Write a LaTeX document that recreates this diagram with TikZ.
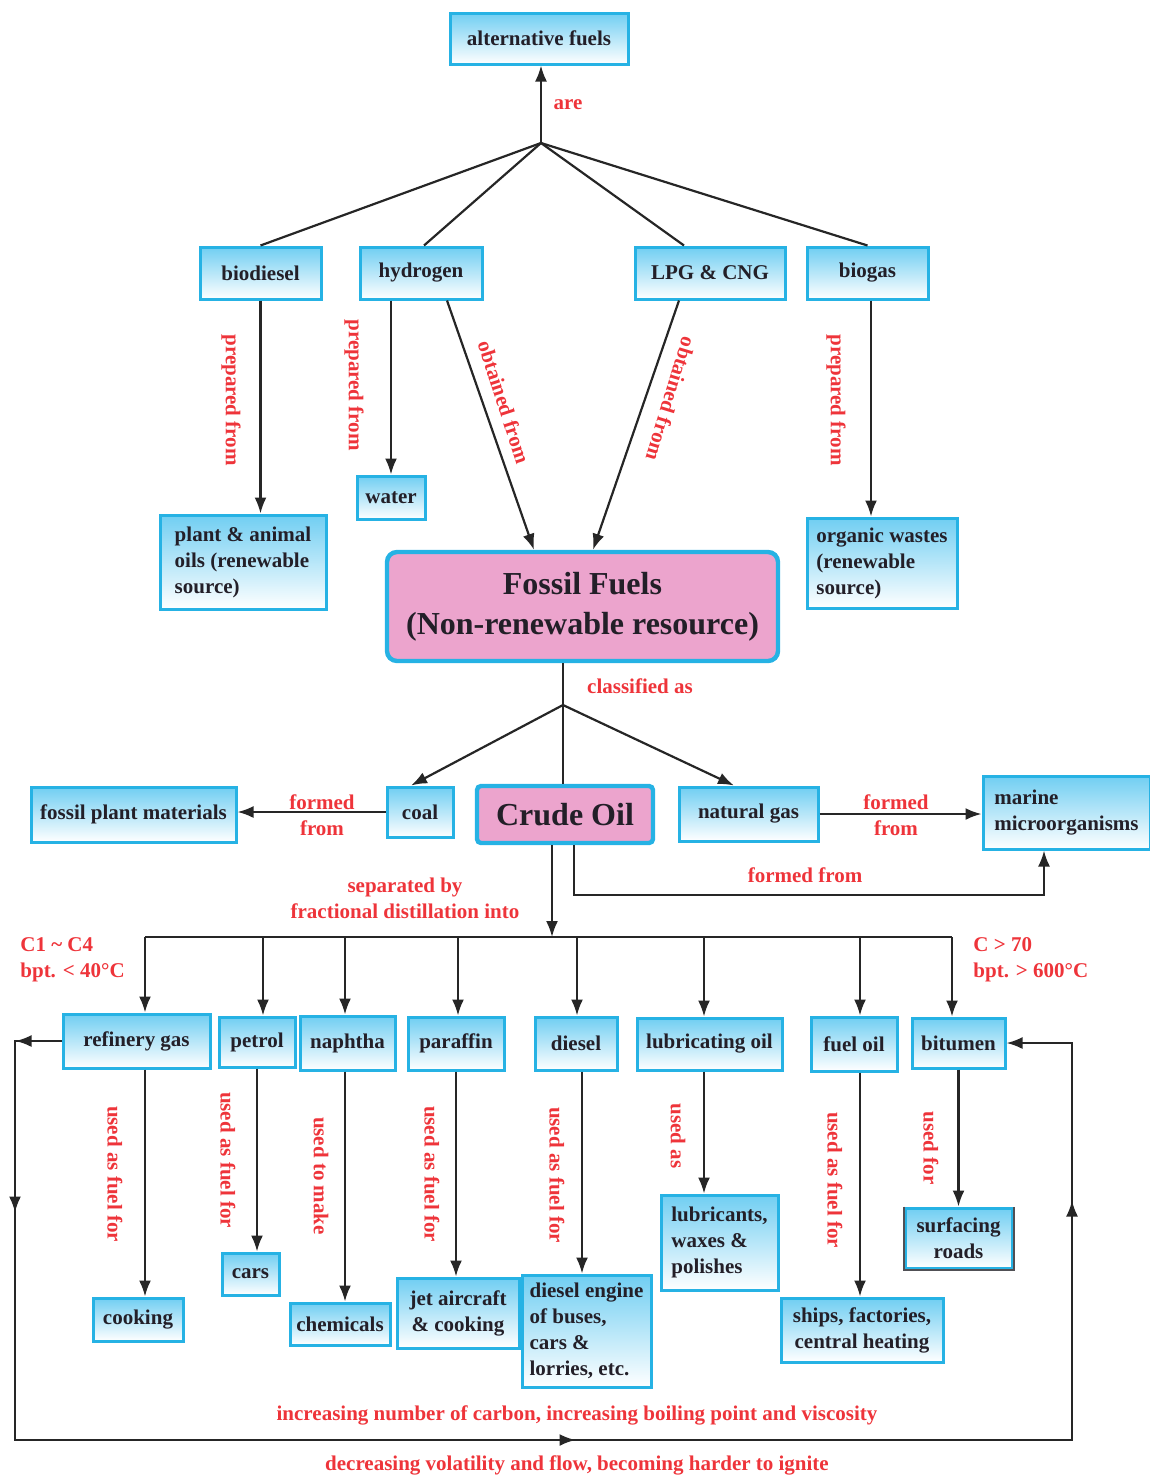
\documentclass[tikz,border=0pt]{standalone}
\usepackage{fontspec}
\setmainfont{Liberation Serif}
\usetikzlibrary{arrows.meta,calc,decorations.markings}

\definecolor{boxline}{RGB}{38,178,228}
\definecolor{boxtop}{RGB}{112,206,242}
\definecolor{pinkfill}{RGB}{236,164,205}
\definecolor{inkdark}{RGB}{35,31,40}
\definecolor{labelred}{RGB}{238,52,58}
\definecolor{edgegrey}{RGB}{80,80,85}

\tikzset{
  sz/.style 2 args={minimum width=#1*0.5pt, minimum height=#2*0.5pt},
  box/.style={draw=boxline, line width=1.5pt, top color=boxtop, bottom color=white,
    text=inkdark, font=\fontsize{10.5}{13}\selectfont\bfseries, align=center, inner sep=2pt},
  mainbox/.style={draw=boxline, line width=2.2pt, fill=pinkfill, rounded corners=5pt,
    text=inkdark, font=\fontsize{16}{20}\selectfont\bfseries, align=center, inner sep=2pt},
  lbl/.style={font=\fontsize{10.5}{13}\selectfont\bfseries, text=labelred, align=center, inner sep=0pt},
  conn/.style={draw=black!85, line width=1.1pt},
  tip/.tip={Latex[length=8pt,width=6pt]},
  arr/.style={conn, -tip},
}

\begin{document}
\begin{tikzpicture}[x=0.5pt, y=-0.5pt]
\useasboundingbox (0,0) rectangle (1150,1478);

% ---------- alternative fuels ----------
\node[box, sz={178}{51}] (alt) at (539,38.5) {alternative fuels};
\node[box, sz={121}{52}] (biodiesel) at (260.5,273) {biodiesel};
\node[box, sz={122}{52}] (hydrogen) at (421,273) {hydrogen};
\node[box, sz={150}{52}] (lpg) at (710,273) {LPG \& CNG};
\node[box, sz={121}{52}] (biogas) at (867.5,273) {biogas};

\node[box, sz={166}{94}, align=left] (plant) at (243,562) {plant \& animal\\oils (renewable\\source)};
\node[box, sz={68}{43}] (water) at (391,497.5) {water};
\node[box, sz={150}{90}, align=left] (organic) at (882,563) {organic wastes\\(renewable\\source)};

\node[mainbox, sz={391}{109}] (fossil) at (582.5,606.5) {Fossil Fuels\\(Non-renewable resource)};

\coordinate (altj) at (541,143);
\draw[arr] (altj) -- (alt.south -| altj);
\node[lbl] (are) at (568,105) {are};
\draw[conn] (altj) -- (biodiesel.north);
\draw[conn] (altj) -- ($(hydrogen.north)+(3,0)$);
\draw[conn] (altj) -- ($(lpg.north)+(-26,0)$);
\draw[conn] (altj) -- (biogas.north);

\draw[arr] (biodiesel.south) -- (biodiesel.south |- plant.north);
\node[lbl, rotate=-90] (l1) at (231,400) {prepared from};
\draw[arr] (water.north |- hydrogen.south) -- (water.north);
\node[lbl, rotate=-90] (l2) at (354,385) {prepared from};
\draw[arr] ($(hydrogen.south)+(26,0)$) -- ($(fossil.north)+(-48.5,0)$);
\node[lbl, rotate=-72] (l3) at (504,402) {obtained from};
\draw[arr] ($(lpg.south)+(-31,0)$) -- ($(fossil.north)+(10.5,0)$);
\node[lbl, rotate=-107] (l4) at (671,399) {obtained from};
\coordinate (bgs) at ($(biogas.south)+(3.5,0)$);
\draw[arr] (bgs) -- (bgs |- organic.north);
\node[lbl, rotate=-90] (l5) at (836,400) {prepared from};

% ---------- fossil fuel types ----------
\node[box, sz={66}{50}] (coal) at (420,812) {coal};
\node[mainbox, sz={176}{57}, rounded corners=2pt] (crude) at (565,814.5) {Crude Oil};
\node[box, sz={139}{54}] (ngas) at (748.5,814) {natural gas};
\node[box, sz={205}{55}] (fpm) at (133.5,814.5) {fossil plant materials};
\node[box, sz={167}{73}, align=left] (marine) at (1066.5,812.5) {marine\\microorganisms};

\coordinate (cls) at (563,705);
\draw[conn] ($(fossil.south)+(-19.5,0)$) -- (cls);
\node[lbl] (l6) at (640,686) {classified as};
\draw[arr] (cls) -- ($(coal.north)+(-9,0)$);
\draw[conn] (cls) -- (cls |- crude.north);
\draw[arr] (cls) -- ($(ngas.north)+(-14.5,0)$);

\draw[arr] (coal.west) -- (coal.west -| fpm.east);
\node[lbl] (l7) at (322,815) {formed\\from};
\draw[arr] (ngas.east) -- (ngas.east -| marine.west);
\node[lbl] (l8) at (896,815) {formed\\from};
\draw[arr] ($(crude.south)+(9,0)$) -- ++(0,50) -| ($(marine.south)+(-22.5,0)$);
\node[lbl] (l9) at (805,875) {formed from};

% ---------- fractional distillation ----------
\coordinate (busc) at (552,937);
\draw[arr] ($(crude.south)+(-13,0)$) -- (busc);
\node[lbl] (l10) at (405,898) {separated by\\fractional distillation into};

\coordinate (b1) at (145,937);
\coordinate (b2) at (263,937);
\coordinate (b3) at (345,937);
\coordinate (b4) at (458,937);
\coordinate (b5) at (577,937);
\coordinate (b6) at (704,937);
\coordinate (b7) at (860,937);
\coordinate (b8) at (952,937);
\draw[conn] (b1) -- (b8);

\node[lbl, align=left, anchor=west] (cl) at (20,960) {C1 \textasciitilde{} C4\\bpt. < 40°C};
\node[lbl, align=left, anchor=west] (cr) at (973,960) {C > 70\\bpt. > 600°C};

\node[box, sz={147}{54}] (rg) at (136.5,1041) {refinery gas};
\node[box, sz={76}{50}] (petrol) at (257,1042) {petrol};
\node[box, sz={95}{54}] (naphtha) at (347.5,1043) {naphtha};
\node[box, sz={96}{53}] (paraffin) at (456,1043.5) {paraffin};
\node[box, sz={82}{53}] (diesel) at (576,1043.5) {diesel};
\node[box, sz={145}{52}] (lube) at (709.5,1044) {lubricating oil};
\node[box, sz={86}{54}] (fueloil) at (854,1044) {fuel oil};
\node[box, sz={93}{50}] (bitumen) at (958.5,1043) {bitumen};

\draw[arr] (b1) -- (b1 |- rg.north);
\draw[arr] (b2) -- (b2 |- petrol.north);
\draw[arr] (b3) -- (b3 |- naphtha.north);
\draw[arr] (b4) -- (b4 |- paraffin.north);
\draw[arr] (b5) -- (b5 |- diesel.north);
\draw[arr] (b6) -- (b6 |- lube.north);
\draw[arr] (b7) -- (b7 |- fueloil.north);
\draw[arr] (b8) -- (b8 |- bitumen.north);

% ---------- uses ----------
\node[box, sz={90}{43}] (cooking) at (138,1319.5) {cooking};
\node[box, sz={57}{42}] (cars) at (250.5,1274) {cars};
\node[box, sz={100}{42}] (chem) at (340,1324) {chemicals};
\node[box, sz={122}{70}] (jet) at (458,1313) {jet aircraft\\\& cooking};
\node[box, sz={129}{112}, align=left] (dengine) at (586.5,1331) {diesel engine\\of buses,\\cars \&\\lorries, etc.};
\node[box, sz={117}{95}, align=left] (lubr) at (719.5,1242.5) {lubricants,\\waxes \&\\polishes};
\node[box, sz={162}{64}] (ships) at (862,1330) {ships, factories,\\central heating};
\node[box, sz={107}{60}] (roads) at (958.5,1238) {surfacing\\roads};
% grey edges on three sides of the road box
\draw[edgegrey, line width=1pt] (roads.north west) -- (roads.south west) -- (roads.south east) -- (roads.north east);

\draw[arr] (b1 |- rg.south) -- (b1 |- cooking.north);
\node[lbl, rotate=-90] (u1) at (115,1174) {used as fuel for};
\draw[arr] (petrol.south) -- (petrol.south |- cars.north);
\node[lbl, rotate=-90] (u2) at (228,1160) {used as fuel for};
\draw[arr] (b3 |- naphtha.south) -- (b3 |- chem.north);
\node[lbl, rotate=-90] (u3) at (321,1176) {used to make};
\draw[arr] (paraffin.south) -- (paraffin.south |- jet.north);
\node[lbl, rotate=-90] (u4) at (432,1174) {used as fuel for};
\coordinate (dsl) at ($(diesel.south)+(6,0)$);
\draw[arr] (dsl) -- (dsl |- dengine.north);
\node[lbl, rotate=-90] (u5) at (557,1175) {used as fuel for};
\draw[arr] (b6 |- lube.south) -- (b6 |- lubr.north);
\node[lbl, rotate=-90] (u6) at (678,1136) {used as};
\draw[arr] (b7 |- fueloil.south) -- (b7 |- ships.north);
\node[lbl, rotate=-90] (u7) at (835,1180) {used as fuel for};
\draw[arr] (bitumen.south) -- (bitumen.south |- roads.north);
\node[lbl, rotate=-90] (u8) at (931,1148) {used for};

% ---------- trend loop ----------
\coordinate (lc1) at (15,1041);
\coordinate (lc2) at (15,1440);
\coordinate (rc2) at (1072,1440);
\coordinate (rc1) at (1072,1043);
\draw[arr, postaction={decorate, decoration={markings,
    mark=at position 23pt with {\arrow{tip}},
    mark=at position 109pt with {\arrow{tip}},
    mark=at position 503pt with {\arrow{tip}},
    mark=at position 871pt with {\arrow{tip}}}}]
  (rg.west) -- (lc1) -- (lc2) -- (rc2) -- (rc1) -- (bitumen.east);

\node[lbl] (t1) at (577,1415) {increasing number of carbon, increasing boiling point and viscosity};
\node[lbl] (t2) at (577,1465) {decreasing volatility and flow, becoming harder to ignite};
\end{tikzpicture}
\end{document}
